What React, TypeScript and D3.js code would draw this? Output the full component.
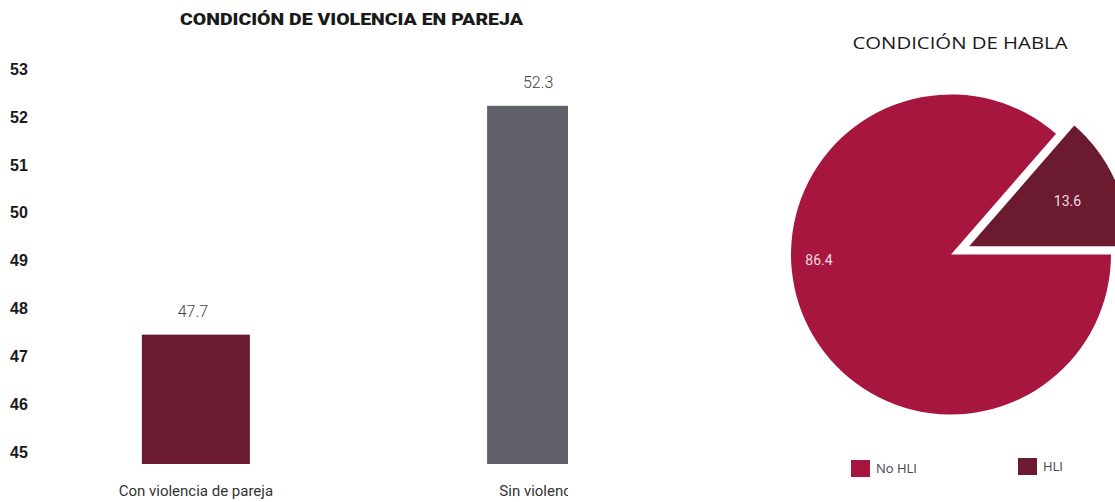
import React from "react";
import * as d3 from "d3";

const barCategories = ["Con violencia de pareja", "Sin violencia"];
const barValues = [47.7, 52.3];
const barValueLabels = ["47.7", "52.3"];
const yTicks = [45, 46, 47, 48, 49, 50, 51, 52, 53];
const pieCategories = ["No HLI", "HLI"];
const pieValues = [86.4, 13.6];
const pieValueLabels = ["86.4", "13.6"];

const W = 1115;
const H = 502;
const barColors = ["#6a1a31", "#5f6068"];
const pieColors = ["#a6163f", "#6b1a30"];

export default function App() {
  const x = d3
    .scaleBand<string>()
    .domain(barCategories)
    .range([21, 716])
    .paddingInner(0.687)
    .paddingOuter(0.35);
  const y = d3.scaleLinear().domain([45.1, 53.1]).range([464, 66]);
  const yLab = d3.scaleLinear().domain([45, 53]).range([452, 69]);

  const cx = 951;
  const cy = 254.5;
  const R = 160;
  const pie = d3
    .pie<number>()
    .sort(null)
    .startAngle(Math.PI / 2)
    .endAngle(Math.PI / 2 + 2 * Math.PI);
  const arcs = pie(pieValues);
  const arc = d3.arc<d3.PieArcDatum<number>>().innerRadius(0).outerRadius(R);
  const explode = [0, 20];
  const labelPos = (i: number, a: d3.PieArcDatum<number>) => {
    if (i === 0) return [-132, 6];
    const mid = (a.startAngle + a.endAngle) / 2;
    return [Math.sin(mid) * 128, -Math.cos(mid) * 128];
  };

  return (
    <svg
      width={W}
      height={H}
      style={{ position: "absolute", left: 0, top: 0, background: "#fff" }}
    >
      <defs>
        <clipPath id="barclip">
          <rect x={0} y={0} width={568} height={H} />
        </clipPath>
      </defs>
      <text
        x={351.5}
        y={25}
        textAnchor="middle"
        fontFamily="Roboto, 'Liberation Sans', sans-serif"
        fontWeight={900}
        fontSize={17}
        fill="#1a1a1a"
        textLength={343}
        lengthAdjust="spacingAndGlyphs"
      >
        CONDICIÓN DE VIOLENCIA EN PAREJA
      </text>
      {yTicks.map((t) => (
        <text
          key={t}
          x={10}
          y={yLab(t)}
          dy="0.36em"
          fontFamily="'Liberation Sans', Arial, sans-serif"
          fontWeight={700}
          fontSize={16}
          fill="#1a1a1a"
        >
          {t}
        </text>
      ))}
      <g clipPath="url(#barclip)">
        {barCategories.map((c, i) => (
          <g key={c}>
            <rect
              x={x(c)}
              y={y(barValues[i])}
              width={x.bandwidth()}
              height={y(45.1) - y(barValues[i])}
              fill={barColors[i]}
            />
            <text
              x={(x(c) as number) + x.bandwidth() / 2 - 3}
              y={y(barValues[i]) - 18}
              textAnchor="middle"
              fontFamily="Roboto, sans-serif"
              fontWeight={300}
              fontSize={16}
              fill="#444"
            >
              {barValueLabels[i]}
            </text>
            <text
              x={(x(c) as number) + x.bandwidth() / 2}
              y={496}
              textAnchor="middle"
              fontFamily="Roboto, sans-serif"
              fontWeight={400}
              fontSize={15}
              fill="#333"
            >
              {c}
            </text>
          </g>
        ))}
      </g>

      <text
        x={960}
        y={49}
        textAnchor="middle"
        fontFamily="'Open Sans', sans-serif"
        fontWeight={500}
        fontSize={16}
        fill="#1a1a1a"
        textLength={215}
        lengthAdjust="spacingAndGlyphs"
      >
        CONDICIÓN DE HABLA
      </text>
      {arcs.map((a, i) => {
        const mid = (a.startAngle + a.endAngle) / 2;
        const dx = Math.sin(mid) * explode[i];
        const dy = -Math.cos(mid) * explode[i];
        const [lx, ly] = labelPos(i, a);
        return (
          <g key={pieCategories[i]} transform={`translate(${cx + dx},${cy + dy})`}>
            <path d={arc(a) as string} fill={pieColors[i]} />
            <text
              x={lx - dx}
              y={ly - dy}
              dy="0.35em"
              textAnchor="middle"
              fontFamily="Roboto, sans-serif"
              fontSize={14}
              fill="#f3dde3"
            >
              {pieValueLabels[i]}
            </text>
          </g>
        );
      })}
      {pieCategories.map((c, i) => {
        const lx = i === 0 ? 851 : 1018;
        const ly = i === 0 ? 460 : 458;
        return (
          <g key={c}>
            <rect x={lx} y={ly} width={19} height={17} fill={pieColors[i]} />
            <text
              x={lx + 25}
              y={ly + 8}
              dy="0.35em"
              fontFamily="'Open Sans', sans-serif"
              fontSize={13}
              fill="#444"
            >
              {c}
            </text>
          </g>
        );
      })}
    </svg>
  );
}
